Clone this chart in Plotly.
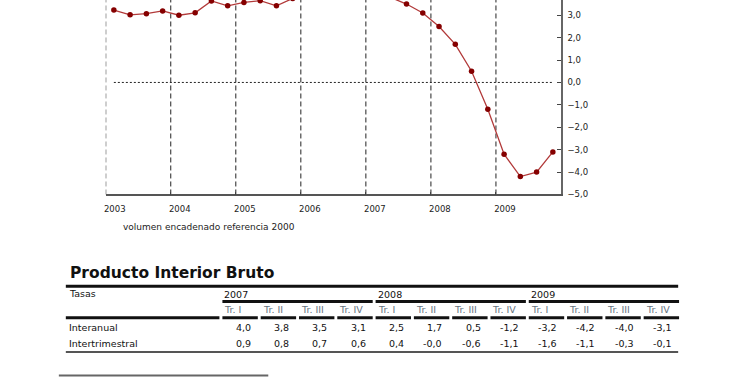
import plotly.graph_objects as go

# ---------------- data ----------------
years = [2003, 2004, 2005, 2006, 2007, 2008, 2009]
pib_interanual_serie = [
    3.23, 3.02, 3.07, 3.19,   # 2003
    3.00, 3.11, 3.64, 3.42,   # 2004
    3.57, 3.65, 3.42, 3.75,   # 2005
    3.90, 4.00, 4.00, 4.00,   # 2006
    4.0, 3.8, 3.5, 3.1,       # 2007
    2.5, 1.7, 0.5, -1.2,      # 2008
    -3.2, -4.2, -4.0, -3.1,   # 2009
]
y_ticks = [-5, -4, -3, -2, -1, 0, 1, 2, 3]
nota = "volumen encadenado referencia 2000"
titulo_tabla = "Producto Interior Bruto"
tabla_years = ["2007", "2008", "2009"]
trimestres = ["Tr. I", "Tr. II", "Tr. III", "Tr. IV"]
filas = ["Interanual", "Intertrimestral"]
interanual = ["4,0", "3,8", "3,5", "3,1", "2,5", "1,7", "0,5", "-1,2", "-3,2", "-4,2", "-4,0", "-3,1"]
intertrimestral = ["0,9", "0,8", "0,7", "0,6", "0,4", "-0,0", "-0,6", "-1,1", "-1,6", "-1,1", "-0,3", "-0,1"]

# ---------------- geometry helpers ----------------
W, H = 740, 389
def X(px):
    return px / W
def Y(py):
    return 1 - py / H

FONT = "DejaVu Sans"

xq = []
for yr in years:
    for q in range(4):
        xq.append(yr + (q + 0.5) / 4)

fig = go.Figure()
fig.add_trace(go.Scatter(
    x=xq, y=pib_interanual_serie, mode="lines+markers",
    line=dict(color="#b23a3a", width=1.3),
    marker=dict(color="#850000", size=5.5),
    showlegend=False, hoverinfo="skip",
))

shapes = []
# vertical dashed year grid
for yr in years:
    shapes.append(dict(type="line", xref="x", yref="paper", x0=yr, x1=yr,
                       y0=Y(197), y1=1, line=dict(color="#222", width=1, dash="5px,3px"),
                       layer="below"))
# dotted zero line
shapes.append(dict(type="line", xref="x", yref="y", x0=xq[0], x1=xq[-1], y0=0, y1=0,
                   line=dict(color="#222", width=1, dash="2px,2px"), layer="below"))

# ---------------- table ----------------
annotations = []
annotations.append(dict(text=nota, x=X(119), y=Y(230), xref="paper", yref="paper",
                        xanchor="left", yanchor="middle", showarrow=False,
                        font=dict(family=FONT, size=9, color="#222")))
annotations.append(dict(text="<b>" + titulo_tabla + "</b>", x=X(66), y=Y(277), xref="paper", yref="paper",
                        xanchor="left", yanchor="middle", showarrow=False,
                        font=dict(family=FONT, size=15.5, color="#111")))

def hline(x0, x1, y, w, color="#111"):
    shapes.append(dict(type="line", xref="paper", yref="paper", x0=X(x0), x1=X(x1),
                       y0=Y(y), y1=Y(y), line=dict(color=color, width=w)))

hline(64, 678, 290, 3)
hline(64, 218, 322, 3)
hline(64, 678, 356.5, 2, "#555")
hline(57, 267, 380.5, 2, "#666")

col_left = [221 + 38.4 * i for i in range(12)]
col_right = [c + 35.5 for c in col_left]

tfont = dict(family=FONT, size=9.5, color="#111")
annotations.append(dict(text="Tasas", x=X(65), y=Y(297), xref="paper", yref="paper",
                        xanchor="left", yanchor="middle", showarrow=False, font=tfont))
for g, yl in enumerate(tabla_years):
    l = col_left[4 * g]
    r = col_right[4 * g + 3]
    annotations.append(dict(text=yl, x=X(l), y=Y(298), xref="paper", yref="paper",
                            xanchor="left", yanchor="middle", showarrow=False, font=tfont))
    hline(l, r, 305.5, 3)
for i in range(12):
    annotations.append(dict(text=trimestres[i % 4], x=X(col_left[i]), y=Y(314), xref="paper",
                            yref="paper", xanchor="left", yanchor="middle", showarrow=False,
                            font=dict(family=FONT, size=9.5, color="#65717e")))
    hline(col_left[i], col_right[i], 322, 3)
    annotations.append(dict(text=interanual[i], x=X(col_right[i] - 5), y=Y(332), xref="paper",
                            yref="paper", xanchor="right", yanchor="middle", showarrow=False, font=tfont))
    annotations.append(dict(text=intertrimestral[i], x=X(col_right[i] - 5), y=Y(348), xref="paper",
                            yref="paper", xanchor="right", yanchor="middle", showarrow=False, font=tfont))
for j, f in enumerate(filas):
    annotations.append(dict(text=f, x=X(65), y=Y(332 + 16 * j), xref="paper", yref="paper",
                            xanchor="left", yanchor="middle", showarrow=False, font=tfont))

fig.update_layout(
    width=W, height=H, autosize=False,
    margin=dict(l=0, r=0, t=0, b=0, pad=0),
    paper_bgcolor="white", plot_bgcolor="white",
    separators=",.",
    shapes=shapes, annotations=annotations,
    xaxis=dict(domain=[X(104), X(560.5)], range=[2003, 2010], tickvals=years,
               ticktext=[str(y) for y in years], ticks="inside", ticklen=3, tickcolor="#444",
               showline=True, linecolor="#555", linewidth=1.5, showgrid=False, zeroline=False,
               ticklabelshift=9, ticklabelstandoff=6,
               tickfont=dict(family=FONT, size=8.5, color="#222")),
    yaxis=dict(domain=[Y(197), 1], range=[-5, 3.68], side="right", tickvals=y_ticks,
               tickformat=".1f", ticks="inside", ticklen=4, tickcolor="#444",
               showline=True, linecolor="#666", linewidth=1.5, showgrid=False, zeroline=False,
               ticklabelstandoff=3,
               tickfont=dict(family=FONT, size=8.5, color="#222")),
)

fig.write_html("out.html")
